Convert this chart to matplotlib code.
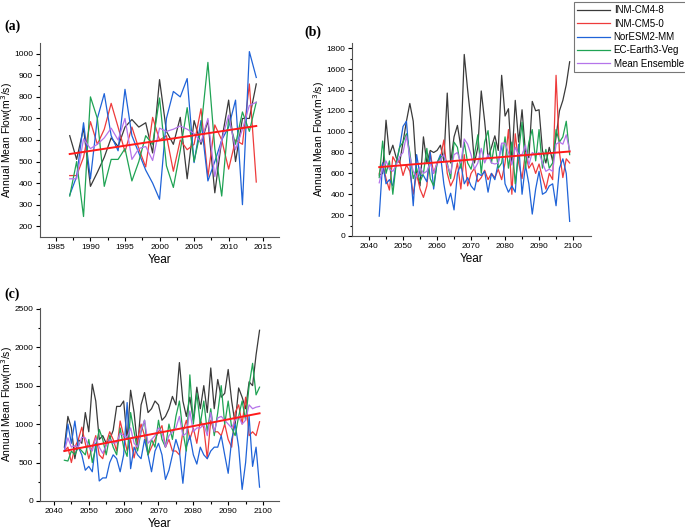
import matplotlib
matplotlib.use("Agg")
import matplotlib.pyplot as plt
import numpy as np

plt.rcParams['font.family'] = ['Liberation Sans', 'DejaVu Sans']

# ---- data ----
years_a = np.arange(1987, 2015)
years_bc = np.arange(2043, 2100)

models = ["INM-CM4-8", "INM-CM5-0", "NorESM2-MM", "EC-Earth3-Veg", "Mean Ensemble"]

# panel (a) historical
inm48_a = [620, 510, 655, 385, 450, 520, 610, 570, 660, 695, 660, 680, 540, 880,
           640, 580, 705, 420, 690, 580, 690, 355, 600, 785, 500, 700, 700, 860]
inm50_a = [435, 435, 520, 685, 580, 650, 770, 660, 545, 660, 560, 475, 705, 600,
           620, 455, 600, 555, 580, 745, 430, 670, 600, 465, 600, 580, 860, 405]
nor_a = [345, 430, 680, 420, 700, 815, 620, 550, 835, 620, 540, 460, 400, 325,
         700, 825, 800, 885, 495, 690, 410, 500, 600, 660, 785, 300, 1010, 890]
ec_a = [340, 500, 245, 800, 700, 385, 510, 510, 560, 410, 500, 620, 580, 795,
        480, 380, 550, 750, 500, 650, 960, 560, 340, 700, 580, 730, 640, 775]
mean_a = [420, 420, 605, 560, 580, 610, 655, 600, 700, 510, 560, 570, 505, 655,
          640, 650, 665, 650, 630, 590, 700, 430, 600, 715, 555, 650, 760, 775]
trend_a = [535, 665]

# panel (b)
inm48_b = [585, 600, 1110, 780, 870, 750, 700, 900, 1100, 1270, 1100, 600, 480, 950,
           700, 820, 800, 820, 870, 720, 1370, 700, 950, 1060, 850, 1740, 1400, 1100,
           700, 850, 1390, 1100, 750, 850, 960, 820, 1540, 1150, 1220, 700, 1300, 900,
           1210, 800, 750, 1290, 1200, 1210, 820, 700, 850, 720, 950, 1200, 1300, 1450, 1670]
inm50_b = [600, 700, 550, 440, 760, 700, 720, 580, 680, 620, 400, 600, 450, 370,
           480, 800, 600, 700, 750, 920, 600, 480, 550, 700, 450, 780, 480, 600,
           650, 520, 560, 630, 540, 600, 560, 640, 540, 700, 1020, 400, 980, 700,
           550, 800, 650, 700, 600, 690, 560, 450, 600, 540, 1540, 800, 560, 740, 700]
nor_b = [190, 700, 500, 540, 480, 700, 850, 1050, 1100, 700, 290, 780, 580, 580,
         520, 800, 450, 700, 780, 500, 310, 410, 250, 600, 690, 500, 560, 480,
         440, 600, 580, 620, 420, 600, 540, 700, 880, 500, 420, 480, 420, 880,
         400, 680, 500, 210, 450, 620, 400, 420, 480, 500, 290, 650, 740, 600, 140]
ec_b = [560, 910, 600, 720, 400, 700, 850, 900, 980, 800, 550, 650, 520, 600,
        840, 550, 480, 700, 760, 760, 700, 550, 900, 850, 650, 900, 700, 640,
        780, 970, 600, 900, 1010, 700, 900, 650, 700, 950, 650, 900, 500, 800,
        1090, 650, 900, 1020, 720, 1020, 650, 830, 650, 700, 1020, 900, 950, 1100, 780]
mean_b = [510, 650, 720, 640, 620, 680, 760, 800, 960, 760, 620, 560, 660, 600,
          620, 700, 600, 700, 730, 780, 680, 600, 780, 800, 700, 930, 880, 780,
          640, 700, 840, 700, 780, 700, 690, 700, 890, 890, 800, 680, 850, 780,
          780, 870, 680, 800, 780, 800, 700, 620, 640, 620, 880, 900, 880, 970, 820]
trend_b = [660, 810]

# panel (c)
inm48_c = [700, 1100, 950, 550, 800, 750, 1150, 900, 1520, 1300, 800, 850, 750, 800,
           920, 1230, 1230, 1300, 800, 1440, 1150, 700, 1250, 1410, 1150, 1200, 1300, 1250,
           1050, 1100, 1200, 1360, 1250, 1800, 1300, 1100, 1350, 1050, 1480, 1200, 1500, 1150,
           1730, 1200, 1580, 1350, 1400, 1710, 1300, 1000, 1470, 1350, 1200, 1550, 1500, 1900, 2220]
inm50_c = [650, 700, 500, 700, 800, 960, 750, 550, 700, 850, 600, 550, 750, 900,
           800, 650, 1040, 850, 650, 800, 560, 800, 1000, 850, 600, 700, 800, 900,
           980, 700, 800, 650, 650, 600, 900, 1050, 800, 950, 750, 1050, 950, 550,
           1050, 900, 900, 850, 1000, 800, 700, 1150, 1250, 1000, 1350, 850, 900, 850, 1030]
nor_c = [650, 1000, 750, 1040, 700, 600, 400, 450, 380, 750, 260, 300, 300, 500,
         600, 550, 380, 600, 1280, 420, 700, 600, 550, 800, 600, 380, 650, 750,
         600, 280, 400, 600, 800, 650, 230, 700, 850, 600, 480, 700, 600, 550,
         650, 700, 700, 850, 600, 360, 800, 1000, 700, 150, 500, 1100, 450, 700, 180]
ec_c = [530, 520, 650, 600, 700, 650, 600, 800, 500, 700, 930, 800, 600, 850,
        700, 600, 950, 700, 580, 1150, 900, 650, 900, 1050, 600, 800, 700, 1050,
        800, 700, 1000, 800, 1100, 1300, 900, 650, 1640, 1000, 1400, 1000, 1300, 900,
        1200, 850, 1150, 1500, 1000, 1300, 950, 850, 1100, 1300, 1050, 1500, 1790, 1380, 1480]
mean_c = [650, 820, 700, 720, 700, 830, 820, 700, 650, 820, 700, 620, 720, 800,
          750, 760, 880, 850, 830, 950, 750, 700, 920, 1050, 750, 800, 850, 950,
          900, 700, 850, 900, 950, 1100, 850, 880, 1170, 900, 950, 950, 1000, 850,
          1150, 900, 1080, 1100, 1050, 1000, 950, 1050, 1100, 1000, 1050, 1250, 1200, 1220, 1230]
trend_c = [650, 1140]

colors = ["#3a3a3a", "#ee3b3b", "#1f63d8", "#1fa354", "#b574ea"]

fig = plt.figure(figsize=(6.85, 5.32), dpi=100)

ax_a = fig.add_axes([0.0584, 0.5545, 0.349, 0.3647])
ax_b = fig.add_axes([0.5139, 0.5564, 0.349, 0.3628])
ax_c = fig.add_axes([0.0584, 0.0583, 0.349, 0.3628])

panels = [
    (ax_a, years_a, [inm48_a, inm50_a, nor_a, ec_a, mean_a], trend_a,
     (1982.7, 2017.3), (150, 1050), np.arange(1985, 2016, 5), np.arange(200, 1001, 100),
     "(a)", (0.006, 0.951)),
    (ax_b, years_bc, [inm48_b, inm50_b, nor_b, ec_b, mean_b], trend_b,
     (2035, 2105.3), (0, 1850), np.arange(2040, 2101, 10), np.arange(0, 1801, 200),
     "(b)", (0.445, 0.940)),
    (ax_c, years_bc, [inm48_c, inm50_c, nor_c, ec_c, mean_c], trend_c,
     (2036, 2104.6), (0, 2510), np.arange(2040, 2101, 10), np.arange(0, 2501, 500),
     "(c)", (0.006, 0.447)),
]

for ax, yrs, series, trend, xl, yl, xt, yt, tag, tagpos in panels:
    for vals, col, name in zip(series, colors, models):
        ax.plot(yrs, vals, color=col, lw=0.9, label=name)
    ax.plot([yrs[0], yrs[-1]], trend, color="#ff1a1a", lw=1.4)
    ax.set_xlim(*xl)
    ax.set_ylim(*yl)
    ax.set_xticks(xt)
    ax.set_yticks(yt)
    ax.set_xticks((xt[:-1] + xt[1:]) / 2, minor=True)
    ax.set_yticks((yt[:-1] + yt[1:]) / 2, minor=True)
    ax.tick_params(labelsize=6, length=3, width=0.8, direction='out', pad=2)
    ax.tick_params(which='minor', length=1.8, width=0.8)
    ax.spines['top'].set_visible(False)
    ax.spines['right'].set_visible(False)
    ax.spines['left'].set_color('#555555')
    ax.spines['bottom'].set_color('#555555')
    ax.set_xlabel("Year", fontsize=8.5)
    ax.set_ylabel("Annual Mean Flow(m$^3$/s)", fontsize=7.5)
    ax.xaxis.set_label_coords(0.5, -0.09)
    ax.yaxis.set_label_coords(-0.105, 0.5)
    fig.text(tagpos[0], tagpos[1], tag, fontsize=10, fontweight='bold',
             family='Liberation Serif', va='center')

handles, labels = ax_a.get_legend_handles_labels()
leg = fig.legend(handles[:5], labels[:5], loc='upper right', bbox_to_anchor=(1.006, 1.0),
                 fontsize=7, frameon=True, fancybox=False, edgecolor='#555555',
                 handlelength=3.4, handletextpad=0.35, labelspacing=0.34, borderpad=0.35,
                 borderaxespad=0.2)
leg.get_frame().set_linewidth(0.8)

fig.savefig("out.png", dpi=100)
